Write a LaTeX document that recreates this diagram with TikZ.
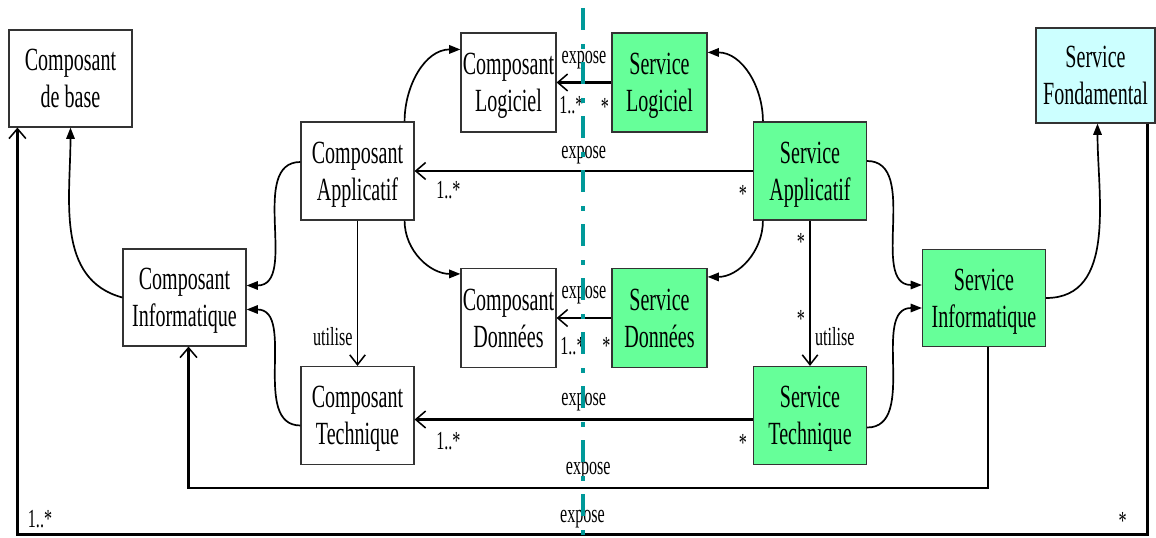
\documentclass[tikz,border=0pt]{standalone}
\usepackage{fontspec}
\setmainfont{Liberation Serif}[FakeStretch=0.62]
\usetikzlibrary{arrows.meta, positioning, calc}
\definecolor{servgreen}{RGB}{102,255,153}
\definecolor{fondcyan}{RGB}{204,255,255}
\definecolor{splitteal}{RGB}{0,153,153}
\tikzset{
  box/.style={rectangle, draw=black!80, line width=0.8pt, inner sep=0pt,
              align=center, text depth=0pt, font=\fontsize{23}{26.2}\selectfont},
  compbox/.style={box, fill=white},
  servbox/.style={box, fill=servgreen},
  fondbox/.style={box, fill=fondcyan},
  smallbox/.style={minimum width=2.375cm, minimum height=2.475cm},
  midbox/.style={minimum width=2.825cm, minimum height=2.45cm},
  bigbox/.style={minimum width=3.075cm, minimum height=2.425cm},
  specialise/.style={line width=1.2pt, -{Triangle[length=8pt, width=6pt]}},
  expose/.style={line width=1.8pt,
                 -{Straight Barb[length=7pt, width=12pt, line width=1.1pt]}},
  utilise/.style={line width=1.1pt, -{Straight Barb[length=7pt, width=11pt]}},
  rel/.style={font=\fontsize{18.5}{22}\selectfont, inner sep=1pt},
  mult/.style={font=\fontsize{18.5}{22}\selectfont, inner sep=1pt},
  splitline/.style={draw=splitteal, line width=3.5pt,
                    dash pattern=on 0.55cm off 0.35cm on 0.125cm off 0.325cm},
}

\begin{document}
\begin{tikzpicture}[x=0.025cm, y=-0.025cm]
    \useasboundingbox (0,0) rectangle (1156,538);
    % Composants (left side)
    \node[compbox, bigbox]   (cbase) at (70.5,78.5)   {Composant\\de base};
    \node[compbox, bigbox]   (cinfo) at (184.5,297.5) {Composant\\Informatique};
    \node[compbox, midbox]   (capp)  at (357.5,171)   {Composant\\Applicatif};
    \node[compbox, midbox]   (ctech) at (357.5,415.5) {Composant\\Technique};
    \node[compbox, smallbox] (clog)  at (508.5,82.5)  {Composant\\Logiciel};
    \node[compbox, smallbox] (cdon)  at (508.5,318)   {Composant\\Données};
    % Services (right side)
    \node[servbox, smallbox] (slog)  at (659.5,82.5)  {Service\\Logiciel};
    \node[servbox, smallbox] (sdon)  at (659.5,318)   {Service\\Données};
    \node[servbox, midbox]   (sapp)  at (810,171)     {Service\\Applicatif};
    \node[servbox, midbox]   (stech) at (810,415.5)   {Service\\Technique};
    \node[servbox, bigbox]   (sinfo) at (984,298)     {Service\\Informatique};
    \node[fondbox, minimum width=2.975cm, minimum height=2.375cm]
      (sfond) at (1095.5,75.5) {Service\\Fondamental};
    % Specialisation links (filled heads)
    \draw[specialise] (cinfo.west) to[out=165, in=-90] (cbase.south);
    \draw[specialise] ([yshift=0.225cm]capp.west) to[out=180, in=0] ([yshift=0.3cm]cinfo.east);
    \draw[specialise] ([yshift=-0.25cm]ctech.west) to[out=180, in=0] ([yshift=-0.3cm]cinfo.east);
    \draw[specialise] ([xshift=-0.25cm]capp.north east) to[out=90, in=180] ([yshift=-0.425cm]clog.north west);
    \draw[specialise] ([xshift=-0.25cm]capp.south east) to[out=-90, in=180] ([yshift=-0.15cm]cdon.north west);
    \draw[specialise] ([xshift=0.25cm]sapp.north west) to[out=90, in=0] ([yshift=-0.5cm]slog.north east);
    \draw[specialise] ([xshift=0.25cm]sapp.south west) to[out=-90, in=0] ([yshift=-0.225cm]sdon.north east);
    \draw[specialise] ([yshift=0.25cm]sapp.east) to[out=0, in=180] ([yshift=0.325cm]sinfo.west);
    \draw[specialise] ([yshift=-0.3cm]stech.east) to[out=0, in=180] ([yshift=-0.25cm]sinfo.west);
    \draw[specialise] (sinfo.east) to[out=0, in=-90] ([xshift=0.05cm]sfond.south);
    % utilise
    \draw[utilise] (capp) -- node[rel, pos=0.8, left=2pt]{utilise} (ctech);
    \draw[utilise] (sapp) -- node[mult, pos=0.15, left=2pt]{*}
      node[mult, pos=0.68, left=2pt]{*} node[rel, pos=0.8, right=2pt]{utilise} (stech);
    % expose (service -> composant)
    \draw[expose] (slog) -- node[rel, above=7.6pt]{expose}
      node[mult, pos=0.12, below=9.5pt]{*} node[mult, pos=0.73, below=8pt]{1..*} (clog);
    \draw[expose] (sapp) -- node[rel, above=3.3pt]{expose}
      node[mult, pos=0.03, below=8.4pt]{*} node[mult, pos=0.9, below=5.5pt]{1..*} (capp);
    \draw[expose] (sdon) -- node[rel, above=8.3pt]{expose}
      node[mult, pos=0.09, below=11.9pt]{*} node[mult, pos=0.71, below=11.7pt]{1..*} (cdon);
    \draw[expose] ([yshift=-0.1cm]stech.west) -- node[rel, above=4pt]{expose}
      node[mult, pos=0.03, below=8.4pt]{*} node[mult, pos=0.9, below=6.9pt]{1..*} ([yshift=-0.1cm]ctech.east);
    \draw[expose] ([xshift=0.1cm]sinfo.south) -- ++(0,141)
      -| node[rel, pos=0.25, above=4pt]{expose} ([xshift=0.1cm]cinfo.south);
    \draw[expose] ([xshift=-0.2cm]sfond.south east) -- ++(0,411)
      -| node[mult, pos=0.011, above=1.8pt]{*} node[rel, pos=0.25, above=2.6pt]{expose}
         node[mult, pos=0.49, above=2.6pt]{1..*} ([xshift=0.225cm]cbase.south west);
    % Separation line
    \draw[splitline] (583,8) -- (583,538);
\end{tikzpicture}
\end{document}
